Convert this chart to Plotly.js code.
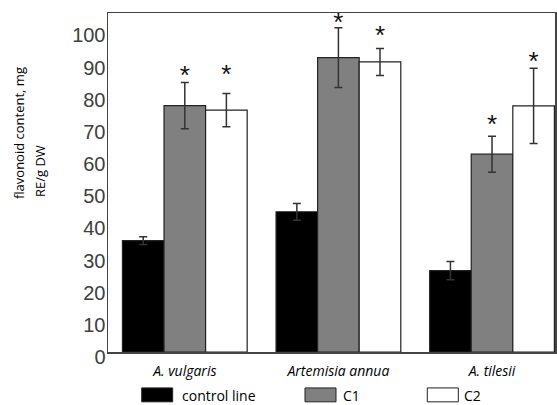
<!DOCTYPE html>
<html>
<head>
<meta charset="utf-8">
<script src="https://cdn.plot.ly/plotly-3.0.1.min.js"></script>
<style>html,body{margin:0;padding:0;background:#fff;}#chart{width:557px;height:405px;}</style>
</head>
<body>
<div id="chart"></div>
<script>
// ---- data ----
const categories = ["A. vulgaris", "Artemisia annua", "A. tilesii"];
const controlValues = [34.6, 43.6, 25.3];
const controlErrors = [1.2, 2.6, 2.8];
const c1Values = [76.6, 91.5, 61.5];
const c1Errors = [7.2, 9.3, 5.6];
const c2Values = [75.2, 90.2, 76.5];
const c2Errors = [5.2, 4.2, 11.7];
// significance marks (asterisk heights)
const c1StarY = [85.3, 101.7, 70.1];
const c2StarY = [85.6, 97.8, 89.8];
const seriesNames = ["control line", "C1", "C2"];
const yTickVals = [0, 10, 20, 30, 40, 50, 60, 70, 80, 90, 100];
const yTitleLines = ["flavonoid content, mg", "RE/g DW"];

const barLine = {color: '#222', width: 1.2};
const errStyle = {type: 'data', visible: true, color: '#333', thickness: 1.5, width: 4};

function barTrace(name, vals, errs, color, og) {
  return {
    type: 'bar', name: name, x: categories, y: vals,
    offsetgroup: og,
    marker: {color: color, line: barLine},
    error_y: Object.assign({array: errs}, errStyle),
    showlegend: false, hoverinfo: 'skip'
  };
}
function starTrace(ys, og) {
  return {
    type: 'scatter', mode: 'text', x: categories, y: ys,
    text: ys.map(v => v === null ? '' : '*'),
    offsetgroup: og,
    textposition: 'middle center',
    textfont: {family: 'Liberation Sans, Arial, sans-serif', size: 26, color: '#111'},
    showlegend: false, hoverinfo: 'skip'
  };
}

const data = [
  barTrace(seriesNames[0], controlValues, controlErrors, '#000000', 'a'),
  barTrace(seriesNames[1], c1Values, c1Errors, '#808080', 'b'),
  barTrace(seriesNames[2], c2Values, c2Errors, '#ffffff', 'c'),
  starTrace(controlValues.map(() => null), 'a'),
  starTrace(c1StarY, 'b'),
  starTrace(c2StarY, 'c')
];

// legend drawn as swatches + labels under the axis
const legendItems = [
  {name: seriesNames[0], color: '#000000', x0: 0.0754, x1: 0.1447, tx: 0.161},
  {name: seriesNames[1], color: '#808080', x0: 0.4407, x1: 0.5101, tx: 0.5213},
  {name: seriesNames[2], color: '#ffffff', x0: 0.7143, x1: 0.7837, tx: 0.7913}
];
const shapes = legendItems.map(it => ({
  type: 'rect', xref: 'paper', yref: 'paper',
  x0: it.x0, x1: it.x1, y0: -0.147, y1: -0.106,
  fillcolor: it.color, line: {color: '#222', width: 1}
}));
const annotations = legendItems.map(it => ({
  xref: 'paper', yref: 'paper', x: it.tx, y: -0.127,
  xanchor: 'left', yanchor: 'middle', showarrow: false,
  text: it.name, font: {family: 'Open Sans, sans-serif', size: 14, color: '#000'}
}));
// two-line rotated y-axis title
annotations.push({
  xref: 'paper', yref: 'paper', x: -0.199, y: 0.646, textangle: -90,
  xanchor: 'center', yanchor: 'middle', showarrow: false,
  text: yTitleLines[0], font: {family: 'Open Sans, sans-serif', size: 13, color: '#000'}
});
annotations.push({
  xref: 'paper', yref: 'paper', x: -0.152, y: 0.534, textangle: -90,
  xanchor: 'center', yanchor: 'middle', showarrow: false,
  text: yTitleLines[1], font: {family: 'Open Sans, sans-serif', size: 13, color: '#000'}
});

const layout = {
  width: 557, height: 405,
  margin: {l: 108, r: 2, t: 13, b: 53},
  paper_bgcolor: '#fff', plot_bgcolor: '#fff',
  barmode: 'group', bargap: 0.188, bargroupgap: 0,
  scattermode: 'group', scattergap: 0.188,
  showlegend: false,
  xaxis: {
    type: 'category', range: [-0.5, 2.41],
    showline: true, linecolor: '#444', linewidth: 1.5, mirror: true,
    ticks: '', showgrid: false, zeroline: false,
    tickfont: {family: 'Open Sans, sans-serif', size: 14, color: '#000', style: 'italic'},
    ticklabelstandoff: 6
  },
  yaxis: {
    range: [0, 105.4], tickvals: yTickVals,
    showline: true, linecolor: '#444', linewidth: 1.5, mirror: true,
    ticks: '', showgrid: false, zeroline: false,
    tickfont: {family: 'Liberation Sans, Arial, sans-serif', size: 20, color: '#404040'},
    ticklabelshift: 5, ticklabelstandoff: -3
  },
  shapes: shapes,
  annotations: annotations
};

Plotly.newPlot('chart', data, layout, {displayModeBar: false, staticPlot: true});
</script>
</body>
</html>
